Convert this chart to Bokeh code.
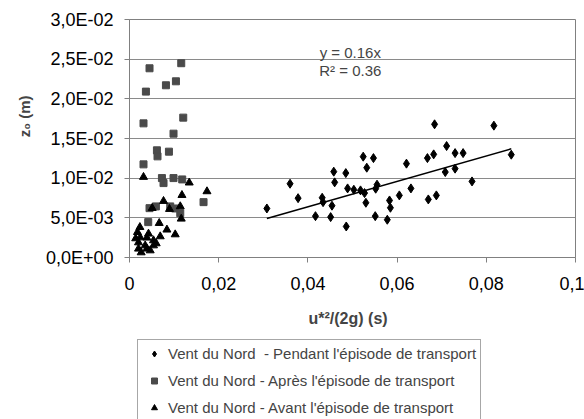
from bokeh.plotting import figure
from bokeh.layouts import column
from bokeh.models import Range1d, FixedTicker, Legend, LegendItem, Label, Title
from bokeh.embed import file_html
from bokeh.resources import INLINE

# Vent du Nord - Pendant l'épisode de transport
pendant_x = [0.0308, 0.0360, 0.0378, 0.0417, 0.0432, 0.0434, 0.0451, 0.0454, 0.0458, 0.0460,
             0.0485, 0.0486, 0.0489, 0.0503, 0.0518, 0.0524, 0.0527, 0.0530, 0.0532, 0.0547,
             0.0551, 0.0552, 0.0555, 0.0578, 0.0583, 0.0585, 0.0605, 0.0621, 0.0631, 0.0668,
             0.0670, 0.0684, 0.0682, 0.0688, 0.0711, 0.0730, 0.0748, 0.0708, 0.0730, 0.0768,
             0.0817, 0.0856]
pendant_y = [0.00618, 0.00930, 0.00748, 0.00521, 0.00753, 0.00698, 0.00509, 0.00653, 0.01082, 0.00947,
             0.01064, 0.00391, 0.00871, 0.00854, 0.00846, 0.01271, 0.00812, 0.00690, 0.01132, 0.01253,
             0.00521, 0.00867, 0.00918, 0.00476, 0.00719, 0.00627, 0.00783, 0.01183, 0.00871, 0.01253,
             0.00732, 0.01679, 0.01300, 0.00783, 0.01405, 0.01316, 0.01316, 0.01077, 0.01120, 0.00959,
             0.01662, 0.01296]

# Vent du Nord - Après l'épisode de transport
apres_x = [0.00449, 0.01160, 0.00817, 0.01041, 0.00368, 0.00314, 0.01205, 0.00987, 0.00615, 0.00628,
           0.00884, 0.00314, 0.00727, 0.00763, 0.00987, 0.01182, 0.01660, 0.00449, 0.00592, 0.01025,
           0.01138, 0.00420, 0.00913]
apres_y = [0.02385, 0.02449, 0.02171, 0.02221, 0.02091, 0.01691, 0.01763, 0.01561, 0.01351, 0.01275,
           0.01334, 0.01174, 0.01001, 0.00938, 0.01001, 0.00984, 0.00698, 0.00622, 0.00644, 0.00618,
           0.00559, 0.00446, 0.00644]

# Vent du Nord - Avant l'épisode de transport
avant_x = [0.00314, 0.01339, 0.01737, 0.01176, 0.00763, 0.00509, 0.00897, 0.01138, 0.01160, 0.00666,
           0.00839, 0.01025, 0.00233, 0.00179, 0.00426, 0.00240, 0.00390, 0.00538, 0.00689, 0.00202,
           0.00352, 0.00538, 0.00202, 0.00390, 0.00262, 0.00464, 0.00599, 0.00139]
avant_y = [0.01014, 0.00943, 0.00833, 0.00786, 0.00711, 0.00622, 0.00610, 0.00644, 0.00488, 0.00433,
           0.00350, 0.00290, 0.00382, 0.00319, 0.00299, 0.00252, 0.00249, 0.00215, 0.00265, 0.00189,
           0.00151, 0.00151, 0.00110, 0.00110, 0.00063, 0.00088, 0.00177, 0.00240]

x_ticks = [0, 0.02, 0.04, 0.06, 0.08, 0.1]
x_tick_labels = ["0", "0,02", "0,04", "0,06", "0,08", "0,1"]
y_ticks = [0, 0.005, 0.01, 0.015, 0.02, 0.025, 0.03]
y_tick_labels = ["0,0E+00", "5,0E-03", "1,0E-02", "1,5E-02", "2,0E-02", "2,5E-02", "3,0E-02"]

trend_slope = 0.16
r_squared = 0.36

series_labels = ["Vent du Nord  - Pendant l'épisode de transport",
                 "Vent du Nord - Après l'épisode de transport",
                 "Vent du Nord - Avant l'épisode de transport"]
series_markers = ["diamond", "square", "triangle"]
series_colors = ["black", "#4a4a4a", "black"]
series_sizes = [9, 7, 8]

FONT = "Liberation Sans"

p = figure(frame_width=446, frame_height=238, output_backend="svg", toolbar_location=None,
           x_range=Range1d(0, 0.1), y_range=Range1d(0, 0.03),
           min_border_left=129, min_border_right=9, min_border_top=19, min_border_bottom=74,
           background_fill_color="white", border_fill_color="white")

p.outline_line_color = "#808080"
p.outline_line_width = 1

p.xgrid.grid_line_color = None
p.ygrid.grid_line_color = "#8a8a8a"
p.ygrid.grid_line_width = 1

for ax in (p.xaxis[0], p.yaxis[0]):
    ax.axis_line_color = "#808080"
    ax.major_tick_line_color = "#808080"
    ax.major_tick_out = 5
    ax.major_tick_in = 0
    ax.minor_tick_line_color = None
    ax.major_label_text_font = FONT
    ax.major_label_text_font_size = "18px"
    ax.major_label_text_color = "black"

p.xaxis.major_label_standoff = 14
p.yaxis.major_label_standoff = 11

p.xaxis.ticker = FixedTicker(ticks=x_ticks)
p.yaxis.ticker = FixedTicker(ticks=y_ticks)
p.xaxis.major_label_overrides = {t: l for t, l in zip(x_ticks, x_tick_labels)}
p.yaxis.major_label_overrides = {t: l for t, l in zip(y_ticks, y_tick_labels)}

p.xaxis.axis_label = "u*²/(2g)   (s)"
p.xaxis.axis_label_text_font = FONT
p.xaxis.axis_label_text_font_style = "bold"
p.xaxis.axis_label_text_font_size = "16px"
p.xaxis.axis_label_standoff = 17

series = [(pendant_x, pendant_y), (apres_x, apres_y), (avant_x, avant_y)]
for (xs, ys), mk, col, sz in zip(series, series_markers, series_colors, series_sizes):
    p.scatter(xs, ys, marker=mk, size=sz, color=col)

x0, x1 = min(pendant_x), max(pendant_x)
p.line([x0, x1], [trend_slope * x0, trend_slope * x1], line_color="black", line_width=1.6)

p.add_layout(Label(x=0.0495, y=0.0259, text=f"y = {trend_slope}x", text_align="center",
                   text_baseline="middle", text_font=FONT, text_font_size="15px"))
p.add_layout(Label(x=0.0495, y=0.02351, text=f"R² = {r_squared}", text_align="center",
                   text_baseline="middle", text_font=FONT, text_font_size="15px"))

ytitle = Title(text="z₀ (m)", align="right", offset=76, standoff=19,
               text_font=FONT, text_font_style="bold", text_font_size="15px")
p.add_layout(ytitle, "left")

# legend panel below the chart (its renderers lie outside this panel's visible range)
lf = figure(width=584, height=88, output_backend="svg", toolbar_location=None,
            x_axis_location=None, y_axis_location=None,
            x_range=Range1d(0, 0.1), y_range=Range1d(1, 2),
            min_border_left=129, min_border_right=9, min_border_top=0, min_border_bottom=0,
            background_fill_color="white", border_fill_color="white")
lf.outline_line_color = None
lf.grid.grid_line_color = None

items = []
for (xs, ys), lab, mk, col in zip(series, series_labels, series_markers, series_colors):
    r = lf.scatter(xs, ys, marker=mk, color=col, size=6)
    items.append(LegendItem(label=lab, renderers=[r]))

legend = Legend(items=items, location="top_left", orientation="vertical",
                padding=4, spacing=8, margin=8,
                label_height=19, glyph_height=15, glyph_width=24, label_standoff=2,
                label_text_font=FONT, label_text_font_size="15px",
                border_line_color="#505050", border_line_width=1,
                background_fill_color="white", background_fill_alpha=1)
lf.add_layout(legend, "center")

layout = column(p, lf, spacing=0)
open("out.html", "w").write(file_html(layout, INLINE))
